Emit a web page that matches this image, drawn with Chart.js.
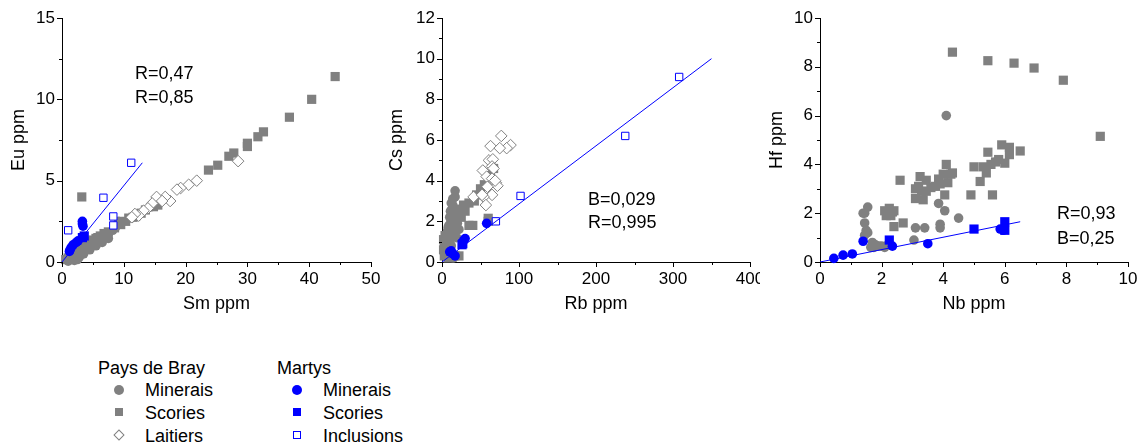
<!DOCTYPE html>
<html>
<head>
<meta charset="utf-8">
<script src="https://cdn.jsdelivr.net/npm/chart.js@4/dist/chart.umd.min.js"></script>
<style>
  body { margin: 0; background: #fff; font-family: "Liberation Sans", Arial, sans-serif; }
  #wrap { position: relative; width: 1144px; height: 448px; overflow: hidden; }
  canvas { position: absolute; top: 0; }
  .txt { position: absolute; font-size: 18px; color: #000; line-height: 20px; white-space: nowrap; }
  .mk { position: absolute; box-sizing: border-box; }
</style>
</head>
<body>
<div id="wrap">
  <canvas id="c1" width="380" height="330" style="left:0"></canvas>
  <canvas id="c2" width="380" height="330" style="left:380px"></canvas>
  <canvas id="c3" width="384" height="330" style="left:760px"></canvas>

  <div class="txt" style="left:135px;top:63px">R=0,47</div>
  <div class="txt" style="left:135px;top:87px">R=0,85</div>
  <div class="txt" style="left:588px;top:189px">B=0,029</div>
  <div class="txt" style="left:588px;top:212px">R=0,995</div>
  <div class="txt" style="left:1057px;top:203px">R=0,93</div>
  <div class="txt" style="left:1057px;top:228px">B=0,25</div>

  <!-- legend -->
  <div class="txt" style="left:98px;top:358px">Pays de Bray</div>
  <div class="mk" style="left:114px;top:385px;width:10px;height:10px;border-radius:50%;background:#808080"></div>
  <div class="txt" style="left:145px;top:380px">Minerais</div>
  <div class="mk" style="left:115px;top:408px;width:8px;height:8px;background:#808080"></div>
  <div class="txt" style="left:145px;top:403px">Scories</div>
  <div class="mk" style="left:115px;top:431px;width:8px;height:8px;border:1px solid #808080;transform:rotate(45deg)"></div>
  <div class="txt" style="left:145px;top:426px">Laitiers</div>

  <div class="txt" style="left:277px;top:358px">Martys</div>
  <div class="mk" style="left:292px;top:385px;width:10px;height:10px;border-radius:50%;background:#0000ff"></div>
  <div class="txt" style="left:323px;top:380px">Minerais</div>
  <div class="mk" style="left:293px;top:408px;width:8px;height:8px;background:#0000ff"></div>
  <div class="txt" style="left:323px;top:403px">Scories</div>
  <div class="mk" style="left:293px;top:431px;width:8px;height:8px;border:1px solid #0000ff"></div>
  <div class="txt" style="left:323px;top:426px">Inclusions</div>
</div>

<script>
// ---- Panel 1 : Sm (x) vs Eu (y) ----
const smEuBrayMinerais = [[1.5,0.25],[2,0.35],[2.5,0.5],[3,0.65],[3.5,0.8],[4,0.95],[4.5,1.05],[5,1.15],[6,1.4],[7,1.6],[8.2,1.95],[8.7,2.15],[9,2.35],[9.2,2.5],[14.5,3.4],[15.2,3.55],[2,0.1],[2.8,0.3],[3.5,0.5],[4.5,0.75],[5.5,1.0],[6.5,1.2],[7.5,1.45],[1,0.05],[2.5,0.15]];
const smEuBrayScories = [[44.2,11.4],[40.4,10.0],[36.8,8.9],[32.6,8.0],[31.7,7.7],[30.0,7.3],[30.0,7.1],[27.8,6.7],[27.0,6.5],[25.2,5.95],[23.7,5.65],[3.2,4.0],[15.5,3.5],[14.8,3.4],[13.5,3.2],[12.8,3.0],[11.5,2.75],[10.3,2.5],[9.5,2.3],[8.5,2.1],[7.5,1.85],[6.8,1.75],[6.2,1.6],[5.5,1.45],[5,1.35],[4.5,1.25],[4,1.15],[3.5,0.95],[3,0.85],[2.5,0.7],[2,0.55],[1.5,0.4],[1,0.25],[0.6,0.15],[5.8,1.5],[10.8,2.7],[12,2.85]];
const smEuBrayLaitiers = [[28.5,6.2],[21.8,5.0],[20.5,4.75],[19.2,4.55],[18.6,4.45],[17.5,3.75],[16.7,4.0],[15.3,4.0],[14.6,3.6],[13.9,3.3],[13.2,3.15],[12.4,2.85],[11.8,2.95],[11.3,2.75],[16.2,3.75]];
const smEuMartysMinerais = [[3.3,2.5],[3.3,2.35],[3.4,2.2],[2.6,1.3],[2.3,1.2],[1.8,1.05],[1.5,0.9],[1.3,0.75],[1.2,0.65]];
const smEuMartysScories = [[3.3,1.5],[3.6,1.6]];
const smEuInclusions = [[1.0,1.95],[6.7,3.95],[11.2,6.1],[8.3,2.8],[8.3,2.25]];
const smEuFit = [[0,0],[13,6.1]];

// ---- Panel 2 : Rb (x) vs Cs (y) ----
const rbCsBrayMinerais = [[17,3.5],[17,3.2],[12,2.9],[14,2.8],[13,2.6],[11,2.5],[15,2.4],[10,2.2],[18,2.2],[12,2.0],[20,1.9],[9,1.8],[8,1.7],[22,1.6],[7,1.5],[8,1.2],[10,1.0],[12,0.8],[5,0.5],[20,0.3],[15,0.2],[6,1.3],[9,1.1],[15,1.7],[13,2.3],[16,1.4],[19,1.2],[6,0.9],[11,1.5],[14,3.1]];
const rbCsBrayScories = [[67,4.6],[63,4.3],[50,3.6],[45,3.3],[35,2.9],[30,2.5],[25,2.2],[40,1.8],[35,1.8],[60,2.0],[60,2.15],[5,1.2],[3,1.0],[5,0.8],[10,1.5],[15,2.0],[20,2.5],[28,2.8],[10,0.5],[3,0.3],[8,0.2],[2,1.1],[22,0.3],[55,3.8],[42,3.0],[25,2.6],[18,1.9],[2,0.6],[4,1.3]];
const rbCsBrayLaitiers = [[77,6.2],[63,5.7],[89,5.75],[84,5.6],[75,5.6],[61,5.0],[66,5.05],[65,4.7],[67,4.6],[53,4.5],[58,4.2],[65,4.1],[70,3.9],[72,3.75],[59,3.7],[65,3.3],[54,3.2],[41,3.2],[57,2.8],[52,3.3],[69,4.0]];
const rbCsMartysMinerais = [[58,1.9],[30,1.15],[28,1.05],[12,0.55],[10,0.5],[14,0.4],[17,0.3]];
const rbCsMartysScories = [[26,0.85],[27,0.9]];
const rbCsInclusions = [[70,2.0],[102,3.25],[238,6.2],[308,9.1]];
const rbCsFit = [[0,0],[350,10]];

// ---- Panel 3 : Nb (x) vs Hf (y) ----
const nbHfBrayMinerais = [[4.1,6.0],[3.85,2.4],[4.05,2.1],[4.5,1.8],[3.9,1.55],[3.9,1.4],[3.1,1.4],[3.4,1.4],[3.05,0.9],[1.45,2.0],[1.55,2.25],[1.4,2.0],[1.45,1.6],[1.5,1.3],[1.55,1.2],[1.45,1.1],[1.7,0.8],[1.65,0.6],[1.8,0.7],[1.9,0.65],[2.0,0.65],[2.2,0.7],[2.1,0.6],[1.75,0.6]];
const nbHfBrayScories = [[4.3,8.6],[5.45,8.25],[6.3,8.15],[6.95,7.95],[7.9,7.45],[9.1,5.15],[5.9,4.8],[6.15,4.7],[6.15,4.4],[6.5,4.55],[5.45,4.5],[5.8,4.2],[5.7,4.1],[5.55,4.0],[5.3,3.9],[5.0,3.9],[6.0,4.05],[5.4,3.65],[5.2,3.3],[5.6,2.75],[4.9,2.75],[4.1,4.0],[4.25,3.6],[4.3,3.65],[4.0,3.6],[3.85,3.4],[3.9,3.2],[4.15,3.25],[4.05,2.75],[3.75,3.1],[3.6,3.05],[3.25,3.5],[3.45,3.35],[3.1,3.0],[3.2,3.1],[3.3,2.9],[3.45,2.9],[3.1,2.6],[3.35,2.55],[2.6,3.35],[2.7,1.6],[2.4,1.45],[2.1,2.1],[2.25,2.2],[2.15,1.9],[2.35,2.05],[2.4,2.1],[2.2,2.0],[2.3,1.9]];
const nbHfMartysMinerais = [[0.45,0.15],[0.75,0.28],[1.05,0.33],[1.4,0.85],[2.35,0.65],[3.5,0.75],[5.85,1.35],[5.95,1.3]];
const nbHfMartysScories = [[2.25,0.9],[5.0,1.35],[6.0,1.65],[6.0,1.3]];
const nbHfFit = [[0,0],[6.5,1.65]];

const GRAY = '#808080';
const BLUE = '#0000ff';
const TICK_FONT = { family: "'Liberation Sans', Arial, sans-serif", size: 17 };
const TITLE_FONT = { family: "'Liberation Sans', Arial, sans-serif", size: 18 };

const toXY = arr => arr.map(p => ({ x: p[0], y: p[1] }));

// series styles, first one listed is drawn on top
function buildDatasets(s) {
    const sets = [];
    if (s.fit) sets.push({ data: toXY(s.fit), showLine: true, borderColor: BLUE, borderWidth: 1, pointRadius: 0, clip: false });
    if (s.inclusions) sets.push({ data: toXY(s.inclusions), pointStyle: 'rect', pointRadius: 5.2, backgroundColor: '#fff', borderColor: BLUE, borderWidth: 1, clip: false });
    if (s.martysScories) sets.push({ data: toXY(s.martysScories), pointStyle: 'rect', pointRadius: 6.5, backgroundColor: BLUE, borderColor: BLUE, borderWidth: 0, clip: false });
    if (s.martysMinerais) sets.push({ data: toXY(s.martysMinerais), pointStyle: 'circle', pointRadius: 4.8, backgroundColor: BLUE, borderColor: BLUE, borderWidth: 0, clip: false });
    if (s.laitiers) sets.push({ data: toXY(s.laitiers), pointStyle: 'rectRot', pointRadius: 5.8, backgroundColor: '#fff', borderColor: GRAY, borderWidth: 1, clip: false });
    if (s.brayScories) sets.push({ data: toXY(s.brayScories), pointStyle: 'rect', pointRadius: 6.5, backgroundColor: GRAY, borderColor: GRAY, borderWidth: 0, clip: false });
    if (s.brayMinerais) sets.push({ data: toXY(s.brayMinerais), pointStyle: 'circle', pointRadius: 4.8, backgroundColor: GRAY, borderColor: GRAY, borderWidth: 0, clip: false });
    return sets;
}

// outward tick marks, longer on labelled ticks
const tickMarks = {
    id: 'tickMarks',
    afterDraw(chart) {
        const ctx = chart.ctx;
        const xs = chart.scales.x, ys = chart.scales.y;
        ctx.save();
        ctx.strokeStyle = '#000';
        ctx.lineWidth = 1;
        ctx.beginPath();
        xs.ticks.forEach(t => {
            const px = Math.round(xs.getPixelForValue(t.value)) + 0.5;
            const len = t.label !== '' ? 5 : 3;
            ctx.moveTo(px, ys.bottom);
            ctx.lineTo(px, ys.bottom + len);
        });
        ys.ticks.forEach(t => {
            const py = Math.round(ys.getPixelForValue(t.value)) + 0.5;
            const len = t.label !== '' ? 5 : 3;
            ctx.moveTo(xs.left, py);
            ctx.lineTo(xs.left - len, py);
        });
        ctx.stroke();
        ctx.restore();
    }
};

function makePanel(id, p) {
    new Chart(document.getElementById(id), {
        type: 'scatter',
        data: { datasets: buildDatasets(p.series) },
        plugins: [tickMarks],
        options: {
            responsive: false,
            animation: false,
            layout: { padding: { left: 0, top: 18, right: p.padRight, bottom: 0 } },
            plugins: { legend: { display: false }, tooltip: { enabled: false } },
            scales: {
                x: {
                    min: p.xMin, max: p.xMax,
                    grid: { display: false, drawTicks: false },
                    border: { display: true, color: '#000', width: 1 },
                    ticks: {
                        stepSize: p.xStep, autoSkip: false, maxRotation: 0,
                        padding: 7, color: '#000', font: TICK_FONT,
                        callback: v => (Math.abs(v % p.xLabelEvery) < 1e-9 ? String(v) : '')
                    },
                    title: { display: true, text: p.xTitle, color: '#000', font: TITLE_FONT, padding: { top: 0, bottom: 15 } },
                    afterFit: s => { s.height = 68; s.paddingLeft = 0; s.paddingRight = 0; }
                },
                y: {
                    min: p.yMin, max: p.yMax,
                    grid: { display: false, drawTicks: false },
                    border: { display: true, color: '#000', width: 1 },
                    ticks: {
                        stepSize: p.yStep, autoSkip: false,
                        padding: 7, color: '#000', font: TICK_FONT,
                        callback: v => (Math.abs(v % p.yLabelEvery) < 1e-9 ? String(v) : '')
                    },
                    title: { display: true, text: p.yTitle, color: '#000', font: TITLE_FONT, padding: { top: p.yTitlePad, bottom: 0 } },
                    afterFit: s => { s.width = p.yWidth; s.paddingTop = 0; s.paddingBottom = 0; }
                }
            }
        }
    });
}

makePanel('c1', {
    series: { brayMinerais: smEuBrayMinerais, brayScories: smEuBrayScories, laitiers: smEuBrayLaitiers,
              martysMinerais: smEuMartysMinerais, martysScories: smEuMartysScories, inclusions: smEuInclusions, fit: smEuFit },
    xMin: 0, xMax: 50, xStep: 5, xLabelEvery: 10, xTitle: 'Sm ppm',
    yMin: 0, yMax: 15, yStep: 2.5, yLabelEvery: 5, yTitle: 'Eu ppm',
    yWidth: 62, yTitlePad: 8, padRight: 9
});

makePanel('c2', {
    series: { brayMinerais: rbCsBrayMinerais, brayScories: rbCsBrayScories, laitiers: rbCsBrayLaitiers,
              martysMinerais: rbCsMartysMinerais, martysScories: rbCsMartysScories, inclusions: rbCsInclusions, fit: rbCsFit },
    xMin: 0, xMax: 400, xStep: 50, xLabelEvery: 100, xTitle: 'Rb ppm',
    yMin: 0, yMax: 12, yStep: 1, yLabelEvery: 2, yTitle: 'Cs ppm',
    yWidth: 62, yTitlePad: 6, padRight: 10
});

makePanel('c3', {
    series: { brayMinerais: nbHfBrayMinerais, brayScories: nbHfBrayScories,
              martysMinerais: nbHfMartysMinerais, martysScories: nbHfMartysScories, fit: nbHfFit },
    xMin: 0, xMax: 10, xStep: 1, xLabelEvery: 2, xTitle: 'Nb ppm',
    yMin: 0, yMax: 10, yStep: 1, yLabelEvery: 2, yTitle: 'Hf ppm',
    yWidth: 60, yTitlePad: 6, padRight: 16
});
</script>
</body>
</html>
